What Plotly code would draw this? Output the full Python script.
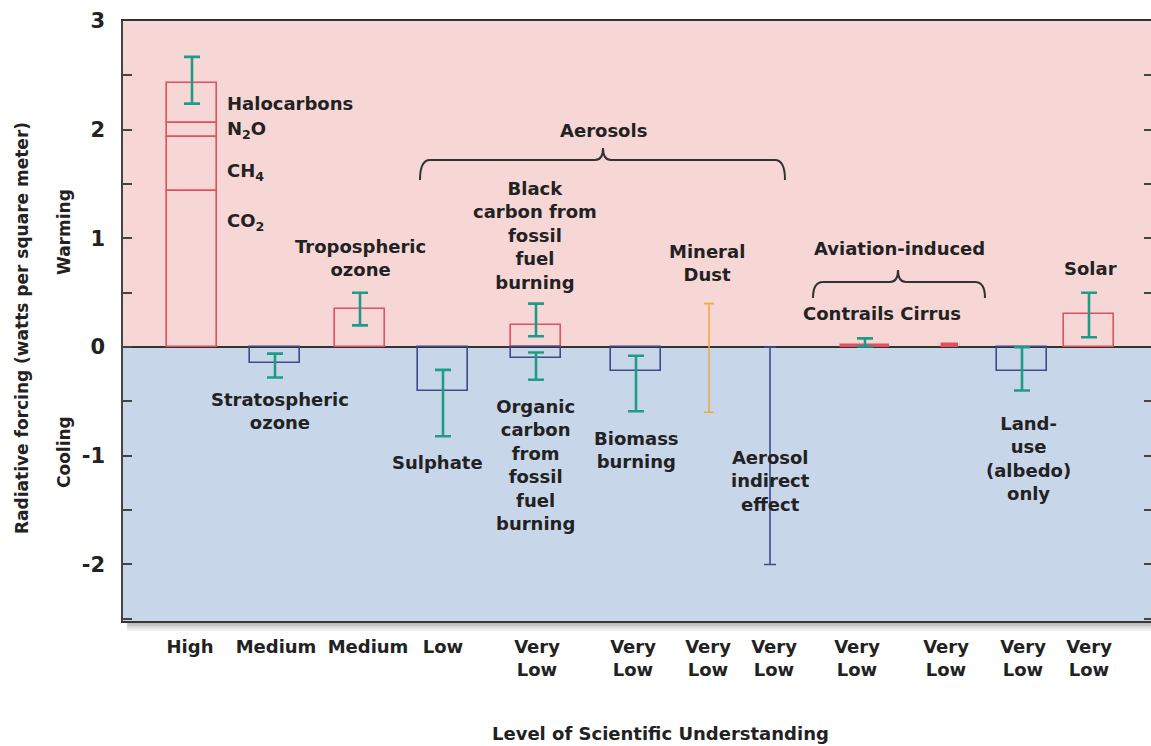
import plotly.graph_objects as go

# ---------------- data ----------------
ghg_names = ["CO<sub>2</sub>", "CH<sub>4</sub>", "N<sub>2</sub>O", "Halocarbons"]
ghg_segments = [1.44, 0.49, 0.13, 0.37]
ghg_err_low = 2.24
ghg_err_high = 2.67

bar_names = ["Stratospheric ozone", "Tropospheric ozone", "Sulphate", "Black carbon",
             "Organic carbon", "Biomass burning", "Land-use (albedo) only", "Solar"]
bar_values = [-0.15, 0.35, -0.40, 0.20, -0.10, -0.22, -0.22, 0.30]
bar_err_low = [-0.28, 0.20, -0.82, 0.10, -0.30, -0.59, -0.40, 0.09]
bar_err_high = [-0.06, 0.50, -0.21, 0.40, -0.05, -0.08, 0.00, 0.50]

aviation_names = ["Contrails", "Cirrus"]
aviation_values = [0.02, 0.03]
contrail_err_low = 0.005
contrail_err_high = 0.08

dust_range = [-0.60, 0.40]
indirect_range = [-2.00, 0.00]

levels = ["High", "Medium", "Medium", "Low", "Very<br>Low", "Very<br>Low", "Very<br>Low",
          "Very<br>Low", "Very<br>Low", "Very<br>Low", "Very<br>Low", "Very<br>Low"]

# ---------------- layout helpers (page-pixel based x axis) ----------------
W, H = 1151, 746
L, T = 123, 21     # plot area top-left in page pixels
PH = 600
YMIN, YMAX = -2.52, 3.0


def py(p):
    return YMAX - (p - T) / PH * (YMAX - YMIN)


ghg_pos = 192
bar_pos = [275, 360, 443, 536, 536, 636, 1022, 1089]
aviation_pos = [865, 950]
aviation_width = [48, 16]
dust_pos = 709
indirect_pos = 770
level_pos = [190, 276, 368, 443, 537, 633, 708, 774, 857, 946, 1023, 1089]
BW = 50

RED = "#E0505E"
BLUE = "#3D4B86"
TEAL = "#1E9C88"
ORANGE = "#F0A848"
INK = "#222222"
FONT = "DejaVu Sans, Arial, sans-serif"

fig = go.Figure()

# greenhouse gas stacked box
bases = []
acc = 0
for v in ghg_segments:
    bases.append(acc)
    acc += v
fig.add_trace(go.Bar(
    x=[ghg_pos] * len(ghg_segments), y=ghg_segments, base=bases, width=BW,
    marker=dict(color="rgba(0,0,0,0)", line=dict(color=RED, width=1.6)),
    name="Greenhouse gases", showlegend=False, hoverinfo="skip"))
ghg_total = acc

# other boxes
fig.add_trace(go.Bar(
    x=bar_pos, y=bar_values, width=BW,
    marker=dict(color="rgba(0,0,0,0)",
                line=dict(color=[RED if v > 0 else BLUE for v in bar_values], width=1.6)),
    showlegend=False, hoverinfo="skip"))

# aviation
fig.add_trace(go.Bar(
    x=aviation_pos, y=aviation_values, width=aviation_width,
    marker=dict(color=RED, line=dict(color=RED, width=1.5)),
    showlegend=False, hoverinfo="skip"))

# teal error bars
eb_x = [ghg_pos] + bar_pos + [aviation_pos[0]]
eb_y = [ghg_total] + bar_values + [aviation_values[0]]
eb_lo = [ghg_err_low] + bar_err_low + [contrail_err_low]
eb_hi = [ghg_err_high] + bar_err_high + [contrail_err_high]
fig.add_trace(go.Scatter(
    x=eb_x, y=eb_y, mode="markers",
    marker=dict(size=1, color="rgba(0,0,0,0)"),
    error_y=dict(type="data", symmetric=False,
                 array=[h - y for h, y in zip(eb_hi, eb_y)],
                 arrayminus=[y - l for l, y in zip(eb_lo, eb_y)],
                 color=TEAL, thickness=2.6, width=8),
    showlegend=False, hoverinfo="skip"))

# mineral dust range
fig.add_trace(go.Scatter(
    x=[dust_pos], y=[(dust_range[0] + dust_range[1]) / 2], mode="markers",
    marker=dict(size=1, color="rgba(0,0,0,0)"),
    error_y=dict(type="data", array=[(dust_range[1] - dust_range[0]) / 2],
                 color=ORANGE, thickness=1.6, width=5),
    showlegend=False, hoverinfo="skip"))

# aerosol indirect effect range
fig.add_trace(go.Scatter(
    x=[indirect_pos], y=[(indirect_range[0] + indirect_range[1]) / 2], mode="markers",
    marker=dict(size=1, color="rgba(0,0,0,0)"),
    error_y=dict(type="data", array=[(indirect_range[1] - indirect_range[0]) / 2],
                 color=BLUE, thickness=1.6, width=6),
    showlegend=False, hoverinfo="skip"))

# ---------------- background shapes ----------------
shapes = [
    dict(type="rect", xref="paper", yref="y", x0=0, x1=1, y0=YMIN, y1=0,
         fillcolor="#C8D6EA", line=dict(width=0), layer="below"),
    dict(type="rect", xref="paper", yref="y", x0=0, x1=1, y0=0, y1=YMAX,
         fillcolor="#F7D7D6", line=dict(width=0), layer="below"),
]
# drop shadow under plot
for i, op in enumerate([0.45, 0.3, 0.18, 0.08]):
    shapes.append(dict(type="rect", xref="paper", yref="paper",
                       x0=0.004, x1=1, y0=-(i + 1) * 2.5 / PH, y1=-i * 2.5 / PH,
                       fillcolor=f"rgba(60,60,60,{op})", line=dict(width=0)))


def brace(x0, x1, xm, ytop_px, yend_px, ytip_px):
    yt, ye, yp = py(ytop_px), py(yend_px), py(ytip_px)
    r = 10
    return (f"M {x0},{ye} Q {x0},{yt} {x0 + r},{yt} L {xm - 8},{yt} "
            f"Q {xm},{yt} {xm},{yp} Q {xm},{yt} {xm + 8},{yt} "
            f"L {x1 - r},{yt} Q {x1},{yt} {x1},{ye}")


shapes.append(dict(type="path", xref="x", yref="y",
                   path=brace(420, 785, 603, 160, 180, 148),
                   line=dict(color="#333333", width=2)))
shapes.append(dict(type="path", xref="x", yref="y",
                   path=brace(813, 985, 898, 282, 298, 270),
                   line=dict(color="#333333", width=2)))

# ---------------- annotations ----------------
labels = [
    ("Halocarbons", 225, 103, "left"),
    ("N<sub>2</sub>O", 225, 130, "left"),
    ("CH<sub>4</sub>", 225, 172, "left"),
    ("CO<sub>2</sub>", 225, 222, "left"),
    ("Tropospheric<br>ozone", 360, 258, "center"),
    ("Stratospheric<br>ozone", 280, 411, "center"),
    ("Aerosols", 603, 130, "center"),
    ("Black<br>carbon from<br>fossil<br>fuel<br>burning", 535, 235, "center"),
    ("Mineral<br>Dust", 707, 263, "center"),
    ("Sulphate", 437, 462, "center"),
    ("Organic<br>carbon<br>from<br>fossil<br>fuel<br>burning", 535, 465, "center"),
    ("Biomass<br>burning", 636, 450, "center"),
    ("Aerosol<br>indirect<br>effect", 770, 481, "center"),
    ("Aviation-induced", 899, 248, "center"),
    ("Contrails Cirrus", 882, 313, "center"),
    ("Land-<br>use<br>(albedo)<br>only", 1028, 458, "center"),
    ("Solar", 1090, 268, "center"),
]
annotations = []
for txt, x, ypx, anc in labels:
    annotations.append(dict(text=f"<b>{txt}</b>", x=x, y=py(ypx), xref="x", yref="y",
                            xanchor=anc, yanchor="middle", showarrow=False,
                            font=dict(family=FONT, size=18, color=INK)))


def paper_x(xpx):
    return (xpx - L) / (W - L)


def paper_y(ypx):
    return 1 - (ypx - T) / PH


side = [("Warming", 64, 232), ("Cooling", 64, 452),
        ("Radiative forcing (watts per square meter)", 22, 328)]
for txt, xpx, ypx in side:
    annotations.append(dict(text=f"<b>{txt}</b>", x=paper_x(xpx), y=paper_y(ypx),
                            xref="paper", yref="paper", showarrow=False,
                            textangle=-90, xanchor="center", yanchor="middle",
                            font=dict(family=FONT, size=17, color=INK)))

annotations.append(dict(text="<b>Level of Scientific Understanding</b>",
                        x=paper_x(660), y=paper_y(733),
                        xref="paper", yref="paper", showarrow=False,
                        xanchor="center", yanchor="middle",
                        font=dict(family=FONT, size=18, color=INK)))

fig.update_layout(
    width=W, height=H,
    margin=dict(l=L, r=0, t=T, b=H - T - PH, pad=0),
    paper_bgcolor="white", plot_bgcolor="#F7D7D6",
    barmode="overlay", bargap=0,
    font=dict(family=FONT, color=INK),
    shapes=shapes, annotations=annotations,
    xaxis=dict(range=[L, W], showgrid=False, zeroline=False,
               showline=True, linecolor="#333333", linewidth=2, mirror=True,
               tickmode="array", tickvals=level_pos,
               ticktext=[f"<b>{t}</b>" for t in levels],
               ticks="", ticklabelstandoff=8,
               tickfont=dict(family=FONT, size=18, color=INK)),
    yaxis=dict(range=[YMIN, YMAX], showgrid=False,
               zeroline=True, zerolinecolor="#333333", zerolinewidth=2,
               showline=True, linecolor="#444444", linewidth=1.5,
               tickmode="array", tickvals=[-2, -1, 0, 1, 2, 3],
               ticktext=["<b>-2</b>", "<b>-1</b>", "<b>0</b>", "<b>1</b>", "<b>2</b>", "<b>3</b>"],
               ticks="inside", ticklen=9, tickcolor="#444444", tickwidth=1.5,
               minor=dict(tickmode="array", tickvals=[-2.5, -1.5, -0.5, 0.5, 1.5, 2.5],
                          ticks="inside", ticklen=9, tickcolor="#444444", tickwidth=1.5),
               ticklabelstandoff=12,
               tickfont=dict(family=FONT, size=21, color=INK)),
    yaxis2=dict(range=[YMIN, YMAX], overlaying="y", side="right", showgrid=False,
                zeroline=False, showline=False, showticklabels=False,
                tickmode="array", tickvals=[-2.5, -2, -1.5, -1, -0.5, 0.5, 1, 1.5, 2, 2.5],
                ticks="inside", ticklen=7, tickcolor="#444444", tickwidth=1.5),
)
# invisible trace to activate the right-hand tick axis
fig.add_trace(go.Scatter(x=[L], y=[0], yaxis="y2", mode="markers",
                         marker=dict(size=1, color="rgba(0,0,0,0)"),
                         showlegend=False, hoverinfo="skip"))

fig.write_html("out.html", config={"displayModeBar": False},
               post_script="document.body.style.margin='0';document.body.style.overflow='hidden';")
